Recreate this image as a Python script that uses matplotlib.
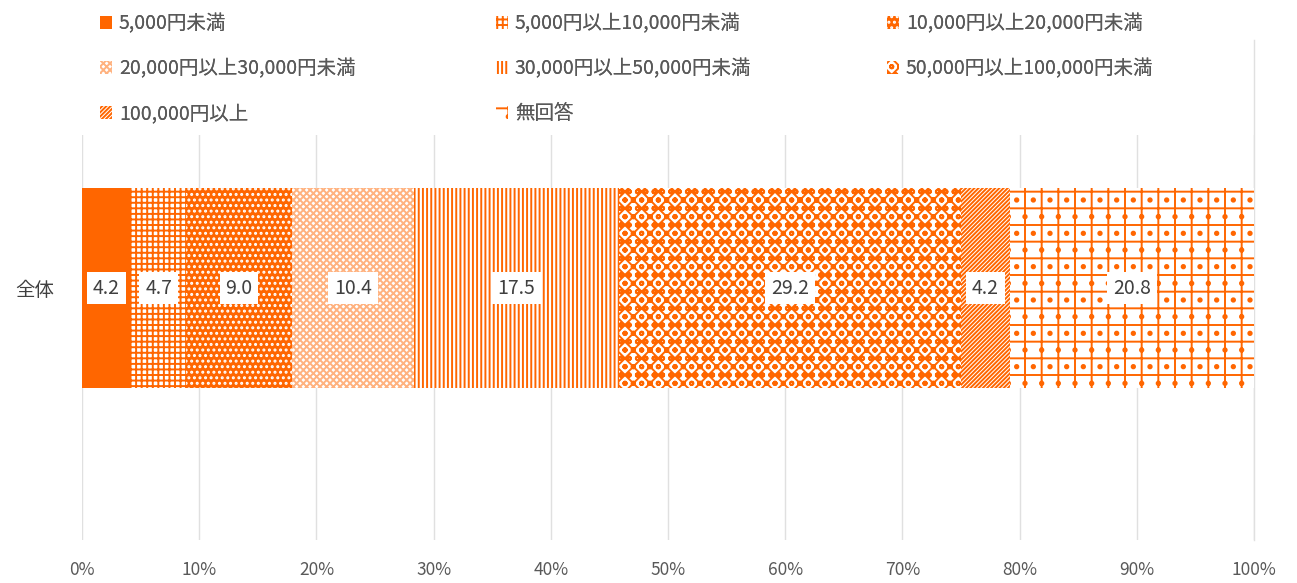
import matplotlib
matplotlib.use("Agg")
import matplotlib.pyplot as plt
import numpy as np

plt.rcParams['font.family'] = ['Noto Sans CJK JP', 'DejaVu Sans']
plt.rcParams['hatch.linewidth'] = 1.4

categories = ['全体']
series_names = ['5,000円未満', '5,000円以上10,000円未満', '10,000円以上20,000円未満',
                '20,000円以上30,000円未満', '30,000円以上50,000円未満', '50,000円以上100,000円未満',
                '100,000円以上', '無回答']
values = [4.2, 4.7, 9.0, 10.4, 17.5, 29.2, 4.2, 20.8]
xticks = [0, 10, 20, 30, 40, 50, 60, 70, 80, 90, 100]
xtick_labels = ['0%', '10%', '20%', '30%', '40%', '50%', '60%', '70%', '80%', '90%', '100%']

ORANGE = '#FF6600'
LIGHT = '#FFB27F'
styles = [
    dict(facecolor=ORANGE, hatch=None, edgecolor=ORANGE),
    dict(facecolor='white', hatch='+++', edgecolor=ORANGE),
    dict(facecolor=ORANGE, hatch='...', edgecolor='white'),
    dict(facecolor='white', hatch='xxxxx', edgecolor=LIGHT),
    dict(facecolor='white', hatch='||||', edgecolor=ORANGE),
    dict(facecolor='white', hatch='xxoo', edgecolor=ORANGE),
    dict(facecolor='white', hatch='////////', edgecolor=ORANGE),
    dict(facecolor='white', hatch='+.', edgecolor=ORANGE),
]

fig = plt.figure(figsize=(12.97, 5.83), dpi=100)
ax = fig.add_axes([82/1297, 1 - 540/583, (1254-82)/1297, (540-135)/583])

left = 0.0
handles = []
for name, v, st in zip(series_names, values, styles):
    b = ax.barh([0], [v], left=[left], height=1.0, label=name, linewidth=0, zorder=2, **st)
    handles.append(b)
    ax.text(left + v/2, 0, f'{v:.1f}', ha='center', va='center', fontsize=14, color='#404040',
            zorder=10,
            bbox=dict(boxstyle='square,pad=0.3', facecolor='white', edgecolor='none'))
    left += v

ax.set_xlim(0, 100)
ax.set_ylim(-1.26, 0.765)
ax.set_xticks(xticks)
ax.set_xticklabels(xtick_labels, color='#595959', fontsize=12.5)
ax.set_yticks([0])
ax.set_yticklabels(categories, color='#404040', fontsize=14)
ax.tick_params(axis='x', length=0, pad=15)
ax.tick_params(axis='y', length=0, pad=20)
ax.xaxis.grid(True, color='#E0E0E0', linewidth=1, zorder=0)
ax.axvline(100, ymin=0, ymax=(540-40)/405, color='#E0E0E0', linewidth=1, clip_on=False, zorder=0)
ax.set_axisbelow(True)
for s in ax.spines.values():
    s.set_visible(False)

col_idx = [[0, 3, 6], [1, 4, 7], [2, 5]]
col_x = [82, 478, 869]
for idx, cx in zip(col_idx, col_x):
    leg = fig.legend([handles[i] for i in idx], [series_names[i] for i in idx],
                     ncol=1, loc='upper left', bbox_to_anchor=(cx/1297, 1 + 4/583),
                     frameon=False, fontsize=14, handlelength=0.65, handleheight=0.65,
                     handletextpad=0.35, labelspacing=1.22, labelcolor='#595959')
    fig.add_artist(leg)

fig.savefig('out.png', dpi=100, facecolor='white')
